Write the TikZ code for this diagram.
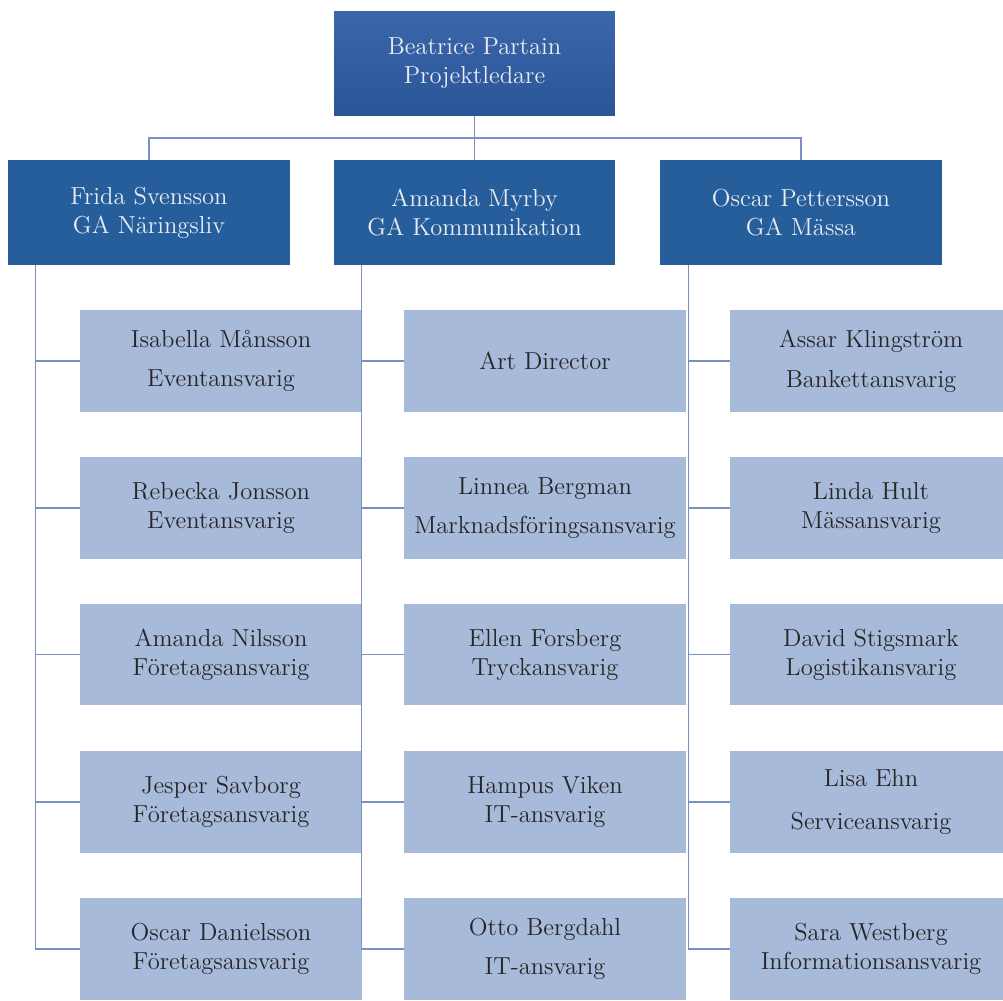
\documentclass[tikz,border=0pt]{standalone}
\usepackage{tikz}
\usetikzlibrary{calc}

\definecolor{headtop}{HTML}{3B67AB}
\definecolor{headbot}{HTML}{2A5597}
\definecolor{leadblue}{HTML}{255E9B}
\definecolor{roleblue}{HTML}{A7BADA}
\definecolor{linkblue}{HTML}{7A90C2}
\definecolor{lighttext}{HTML}{E8ECF2}
\definecolor{darktext}{HTML}{262626}

\begin{document}
\begin{tikzpicture}[x=0.02cm, y=-0.02cm, font=\fontsize{14}{16.5}\selectfont,
    headbox/.style={rectangle, minimum width=5.62cm, minimum height=2.1cm, align=center,
        text=lighttext, top color=headtop, bottom color=headbot},
    leadbox/.style={rectangle, minimum width=5.64cm, minimum height=2.1cm, align=center,
        text=lighttext, fill=leadblue},
    rolebox/.style={rectangle, minimum width=5.64cm, minimum height=2.04cm, align=center,
        text=darktext, fill=roleblue},
    link/.style={draw=linkblue, line width=0.6pt}]
    \clip (0,0) rectangle (1003,1000);

    \node[headbox] (beatrice) at (474.5,63.5) {Beatrice Partain\\Projektledare};

    \node[leadbox] (frida) at (149,212.5) {Frida Svensson\\GA Näringsliv};
    \node[leadbox] (amanda) at (474.5,212.5) {Amanda Myrby\\GA Kommunikation};
    \node[leadbox] (oscar) at (801,212.5) {Oscar Pettersson\\GA Mässa};

    % Näringsliv
    \node[rolebox] (isabella) at (221,361) {Isabella Månsson\\[6pt]Eventansvarig};
    \node[rolebox] (rebecka) at (221,508) {Rebecka Jonsson\\Eventansvarig};
    \node[rolebox] (nilsson) at (221,654.5) {Amanda Nilsson\\Företagsansvarig};
    \node[rolebox] (jesper) at (221,802) {Jesper Savborg\\Företagsansvarig};
    \node[rolebox] (danielsson) at (221,949) {Oscar Danielsson\\Företagsansvarig};

    % Kommunikation
    \node[rolebox] (artdir) at (545,361) {Art Director};
    \node[rolebox] (linnea) at (545,508) {Linnea Bergman\\[6pt]Marknadsföringsansvarig};
    \node[rolebox] (ellen) at (545,654.5) {Ellen Forsberg\\Tryckansvarig};
    \node[rolebox] (hampus) at (545,802) {Hampus Viken\\IT-ansvarig};
    \node[rolebox] (otto) at (545,949) {Otto Bergdahl\\[6pt]IT-ansvarig};

    % Mässa
    \node[rolebox] (assar) at (871,361) {Assar Klingström\\[6pt]Bankettansvarig};
    \node[rolebox] (linda) at (871,508) {Linda Hult\\Mässansvarig};
    \node[rolebox] (david) at (871,654.5) {David Stigsmark\\Logistikansvarig};
    \node[rolebox] (lisa) at (871,802) {Lisa Ehn\\[8pt]Serviceansvarig};
    \node[rolebox] (sara) at (871,949) {Sara Westberg\\Informationsansvarig};

    \coordinate (bus) at (474.5,138);
    \draw[link] (beatrice.south) -- (amanda.north);
    \draw[link] (frida.north) |- (bus) -| (oscar.north);

    \coordinate (dropF) at ($(frida.south west)+(28,0)$);
    \coordinate (dropA) at ($(amanda.south west)+(28,0)$);
    \coordinate (dropO) at ($(oscar.south west)+(29,0)$);
    \foreach \r in {isabella,rebecka,nilsson,jesper,danielsson}
        \draw[link] (dropF) |- (\r.west);
    \foreach \r in {artdir,linnea,ellen,hampus,otto}
        \draw[link] (dropA) |- (\r.west);
    \foreach \r in {assar,linda,david,lisa,sara}
        \draw[link] (dropO) |- (\r.west);
\end{tikzpicture}
\end{document}
